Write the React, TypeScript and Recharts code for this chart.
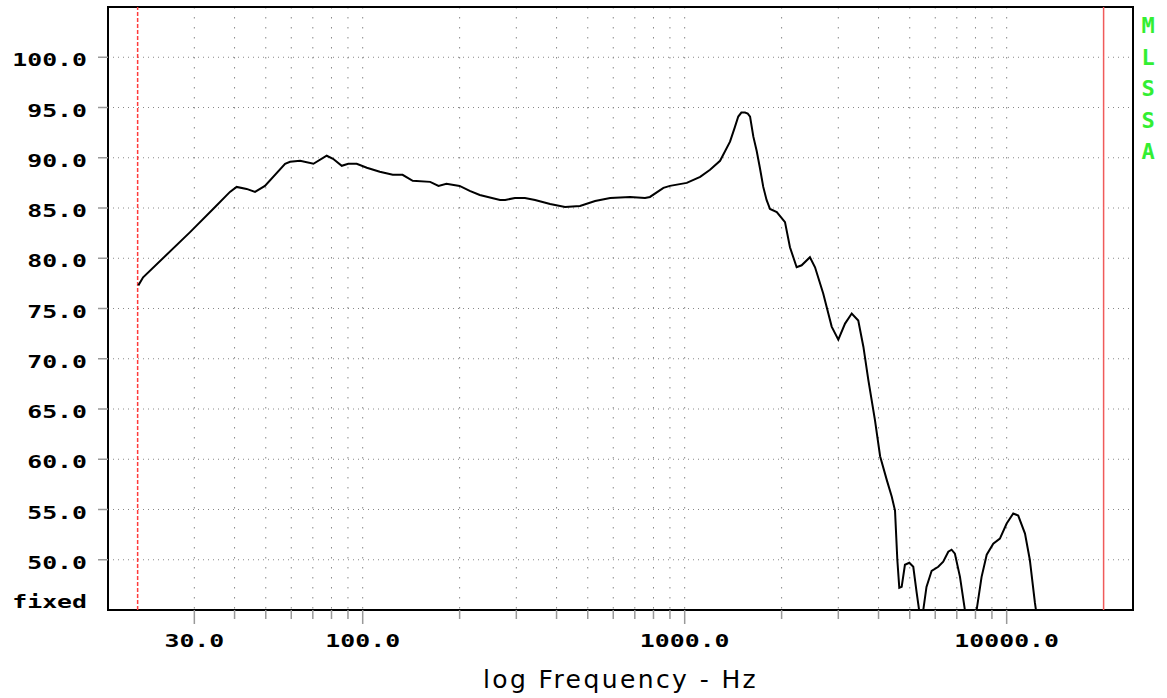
import { LineChart, Line, XAxis, YAxis, CartesianGrid, ReferenceLine, ReferenceArea } from 'recharts';

// frequency response (Hz / dB SPL); values under 45 dip below the frame
const freqHz = [
  20.1, 20.8, 29.1, 34.8, 38.7, 40.6, 43.6, 46.3, 49.7, 57.4, 59.5, 63.9, 70.3, 77.3, 80.9, 86.1,
  90.2, 95.8, 103, 113, 124, 133, 143, 162, 172, 182, 200, 215, 231, 267, 277, 297, 319, 343, 382,
  425, 473, 527, 587, 677, 753, 780, 859, 900, 1015, 1117, 1199, 1288, 1383, 1430, 1467, 1500, 1539,
  1570, 1596, 1634, 1673, 1712, 1754, 1796, 1841, 1932, 2049, 2123, 2227, 2308, 2449, 2540, 2693,
  2861, 3000, 3148, 3302, 3460, 3589, 3718, 3899, 4045, 4246, 4395, 4500, 4575, 4640, 4720, 4831,
  4985, 5128, 5250, 5346, 5420, 5508, 5636, 5848, 6131, 6353, 6587, 6745, 6906, 7161, 7418, 7745,
  8066, 8358, 8670, 9085, 9527, 10000, 10480, 10860, 11400, 11800, 12240, 12330, 12700,
];
const splDb = [
  77.3, 78.1, 82.6, 85.1, 86.6, 87.1, 86.9, 86.6, 87.2, 89.4, 89.6, 89.7, 89.4, 90.2, 89.9, 89.2,
  89.4, 89.4, 89.0, 88.6, 88.3, 88.3, 87.7, 87.6, 87.2, 87.4, 87.2, 86.7, 86.3, 85.8, 85.8, 86.0,
  86.0, 85.8, 85.4, 85.1, 85.2, 85.7, 86.0, 86.1, 86.0, 86.1, 87.0, 87.2, 87.5, 88.1, 88.8, 89.7,
  91.6, 93.0, 94.1, 94.5, 94.5, 94.4, 94.1, 92.1, 90.7, 89.0, 87.1, 85.8, 84.9, 84.6, 83.6, 81.1,
  79.1, 79.3, 80.1, 79.1, 76.5, 73.2, 71.9, 73.5, 74.5, 73.8, 71.2, 67.9, 63.9, 60.3, 57.9, 56.3,
  54.9, 50.0, 47.2, 47.3, 49.5, 49.7, 49.3, 46.8, 45.0, 38, 45.0, 47.3, 48.9, 49.3, 49.8, 50.8,
  51.0, 50.6, 48.3, 45.0, 32, 45.0, 48.3, 50.5, 51.6, 52.1, 53.6, 54.6, 54.4, 52.6, 50.0, 45.7,
  45.0, 38,
];

const xTicks = [
  30, 40, 50, 60, 70, 80, 90, 100, 200, 300, 400, 500, 600, 700, 800, 900, 1000,
  2000, 3000, 4000, 5000, 6000, 7000, 8000, 9000, 10000,
];
const xLabels = [30, 100, 1000, 10000];
const yTicks = [45, 50, 55, 60, 65, 70, 75, 80, 85, 90, 95, 100];
const sideLetters = ['M', 'L', 'S', 'S', 'A'];

const X_MIN = 16.18;
const X_MAX = 24680;
const MONO = "'DejaVu Sans Mono', monospace";

const data = freqHz.map((f, i) => ({ f, db: splDb[i] }));

const XTick = (props: any) => {
  const { x, y, payload } = props;
  const major = xLabels.includes(payload.value);
  return (
    <g>
      <line x1={x} x2={x} y1={y} y2={y + (major ? 14 : 9)} stroke="#999" strokeWidth={1.5} />
      {major && (
        <text
          transform={`translate(${x},${y + 37}) scale(1.38,1)`}
          textAnchor="middle"
          fontFamily={MONO}
          fontWeight="bold"
          fontSize={18}
          fill="#000"
        >
          {payload.value.toFixed(1)}
        </text>
      )}
    </g>
  );
};

const YTick = (props: any) => {
  const { x, y, payload } = props;
  if (payload.value === 45) {
    return (
      <text
        transform={`translate(${x - 21},${y - 2}) scale(1.38,1)`}
        textAnchor="end"
        fontFamily={MONO}
        fontWeight="bold"
        fontSize={18}
        fill="#000"
      >
        fixed
      </text>
    );
  }
  return (
    <g>
      <line x1={x - 10} x2={x} y1={y} y2={y} stroke="#999" strokeWidth={1.5} />
      <text
        transform={`translate(${x - 21},${y + 9}) scale(1.38,1)`}
        textAnchor="end"
        fontFamily={MONO}
        fontWeight="bold"
        fontSize={18}
        fill="#000"
      >
        {payload.value.toFixed(1)}
      </text>
    </g>
  );
};

export default function App() {
  return (
    <div style={{ position: 'relative', width: 1167, height: 698, background: '#fff' }}>
      <style>{'body{margin:0;}'}</style>
      <LineChart width={1167} height={698} data={data} margin={{ top: 7, right: 34, left: 0, bottom: 0 }}>
        <CartesianGrid horizontal vertical={false} stroke="#888" strokeDasharray="1 4" />
        <CartesianGrid horizontal={false} vertical stroke="#888" strokeDasharray="1.5 8.5" />
        <XAxis
          dataKey="f"
          type="number"
          scale="log"
          domain={[X_MIN, X_MAX]}
          allowDataOverflow
          ticks={xTicks}
          interval={0}
          height={88}
          tickSize={0}
          tickMargin={0}
          axisLine={false}
          tickLine={false}
          tick={<XTick />}
          label={{
            value: 'log Frequency - Hz',
            position: 'insideBottom',
            offset: 10,
            fontFamily: "'DejaVu Sans', sans-serif",
            fontSize: 25,
            fill: '#000',
            style: { letterSpacing: 2.4 },
          }}
        />
        <YAxis
          type="number"
          domain={[45, 105]}
          allowDataOverflow
          ticks={yTicks}
          interval={0}
          width={108}
          tickSize={0}
          tickMargin={0}
          axisLine={false}
          tickLine={false}
          tick={<YTick />}
        />
        <ReferenceLine x={20} stroke="#ff3b3b" strokeWidth={1.5} strokeDasharray="4 2" />
        <ReferenceLine x={20000} stroke="#f05a5a" strokeWidth={1.5} />
        <ReferenceArea
          x1={X_MIN}
          x2={X_MAX}
          y1={45}
          y2={105}
          fill="none"
          fillOpacity={0}
          stroke="#000"
          strokeWidth={2}
          ifOverflow="visible"
        />
        <Line
          type="linear"
          dataKey="db"
          stroke="#000"
          strokeWidth={2}
          dot={false}
          isAnimationActive={false}
        />
      </LineChart>
      <svg width={1167} height={698} style={{ position: 'absolute', left: 0, top: 0, pointerEvents: 'none' }}>
        {sideLetters.map((ch, i) => (
          <text
            key={i}
            x={1148}
            y={33 + i * 31.5}
            textAnchor="middle"
            fontFamily={MONO}
            fontWeight="bold"
            fontSize={22}
            fill="#33ee33"
          >
            {ch}
          </text>
        ))}
      </svg>
    </div>
  );
}
